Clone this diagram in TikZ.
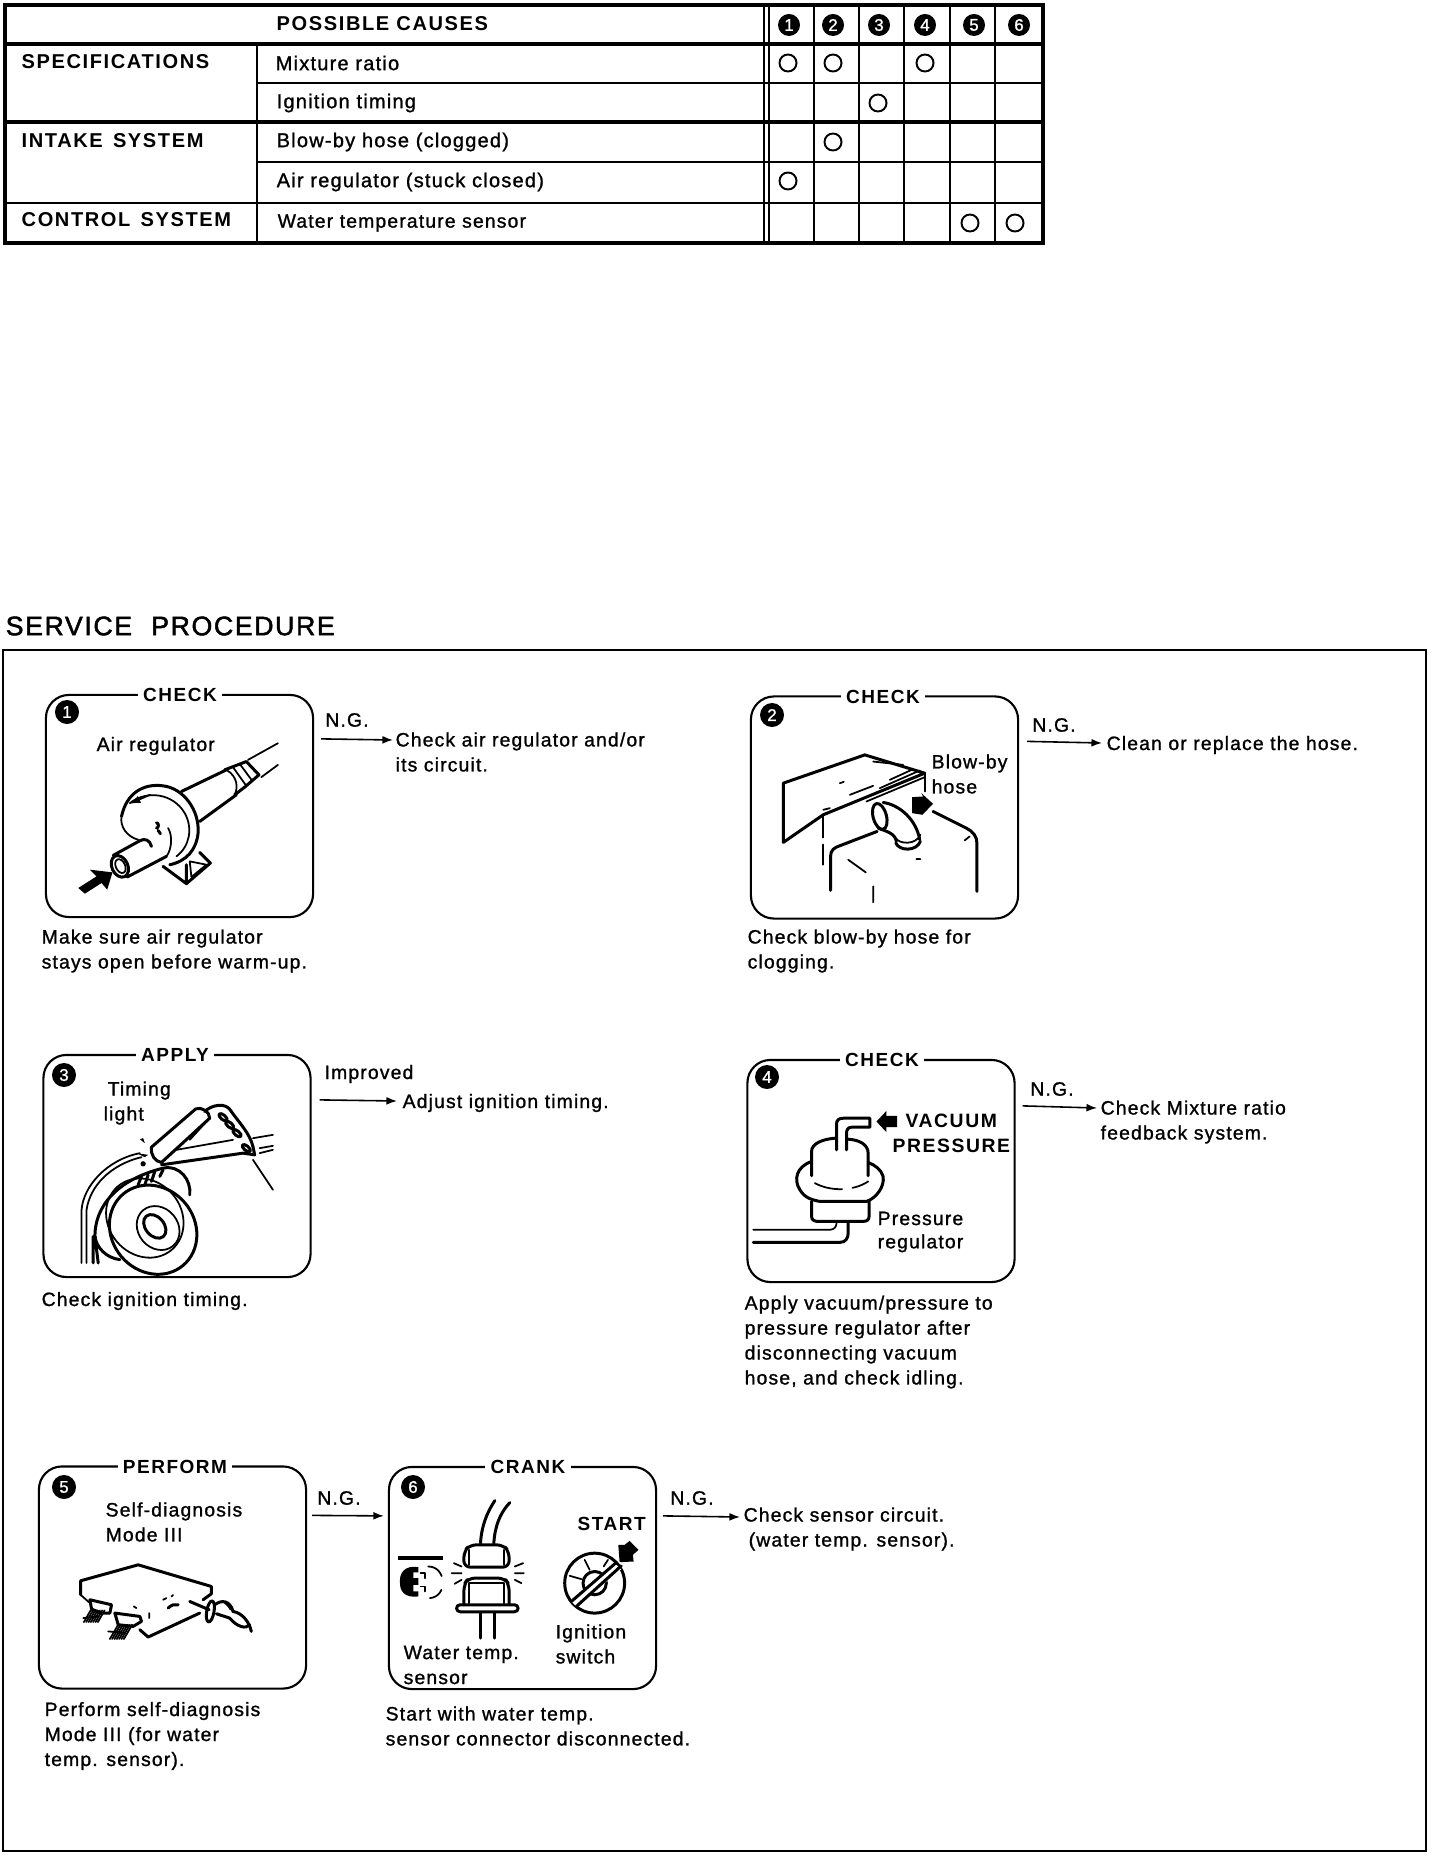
\documentclass[tikz,border=0pt]{standalone}
\usepackage{fontspec}
\setmainfont[LetterSpace=6,FakeBold=1.2]{Liberation Sans}
\newfontfamily\headfont[LetterSpace=6,FakeBold=1.8]{Liberation Sans}
\newfontfamily\capsfont[LetterSpace=8]{Liberation Sans Bold}
\usetikzlibrary{arrows.meta,positioning}

\begin{document}
\begin{tikzpicture}[>={Latex[length=6pt*0.5,width=4.5pt*0.5]},x=0.01cm,y=-0.01cm]
  \tikzstyle{txt}=[inner sep=0pt,anchor=west,align=left,font=\fontsize{5.5}{7.1}\selectfont]
  \tikzstyle{tabtxt}=[inner sep=0pt,anchor=west,font=\fontsize{5.7}{7}\selectfont]
  \tikzstyle{tabhead}=[inner sep=0pt,anchor=west,font=\capsfont\fontsize{5.7}{7}\selectfont]
  \tikzstyle{procbox}=[draw,rounded corners=0.23cm,line width=0.6pt,minimum width=2.67cm,minimum height=2.22cm,inner sep=0pt]
  \tikzstyle{boxtitle}=[inner sep=1.5pt,fill=white,font=\capsfont\fontsize{5.4}{7}\selectfont]
  \tikzstyle{badge}=[circle,fill=black,text=white,inner sep=0pt,minimum size=0.24cm,font=\fontsize{4.8}{5}\selectfont]
  \tikzstyle{headbadge}=[badge,minimum size=0.22cm]
  \tikzstyle{tick}=[circle,draw,line width=0.55pt,inner sep=0pt,minimum size=0.17cm]
  \tikzstyle{flow}=[line width=0.45pt,->]
  \tikzstyle{art}=[line width=0.5pt,line cap=round,line join=round]
  \tikzstyle{artb}=[line width=0.85pt,line cap=round,line join=round]
  \useasboundingbox (0,0) rectangle (1440,1858);
  % table
  \draw[line width=0.95pt] (5,5) rectangle (1043,243);
  \draw[line width=0.95pt] (5,44) -- (1043,44);
  \draw[line width=0.95pt] (5,122) -- (1043,122);
  \draw[line width=0.7pt] (5,203) -- (1043,203);
  \draw[line width=0.6pt] (257,83) -- (1043,83);
  \draw[line width=0.6pt] (257,162) -- (1043,162);
  \draw[line width=0.6pt] (257,44) -- (257,243);
  \foreach \xc in {764,769,814,859,904,950,995}
    \draw[line width=0.55pt] (\xc,5) -- (\xc,243);
  \node[tabhead] (causes) at (276,24) {POSSIBLE CAUSES};
  \node[tabhead] (spec) at (21,62) {SPECIFICATIONS};
  \node[tabhead] (intake) at (21,141) {INTAKE\hspace{0.03cm} SYSTEM};
  \node[tabhead] (control) at (21,220) {CONTROL\hspace{0.03cm} SYSTEM};
  \node[tabtxt] (mix) at (275,63) {Mixture ratio};
  \node[tabtxt] (ign) at (276,103) {Ignition timing};
  \node[tabtxt] (blow) at (276,142) {Blow-by hose (clogged)};
  \node[tabtxt] (air) at (276,182) {Air regulator (stuck closed)};
  \node[tabtxt,font=\fontsize{5.5}{7}\selectfont] (water) at (277,223) {Water temperature sensor};
  \foreach \i/\xc in {1/789,2/833,3/879,4/925,5/974,6/1019}
    \node[headbadge] (head\i) at (\xc,25) {\i};
  \foreach \i/\xc/\yc in {1/788/63,2/833/63,3/925/63,4/878/103,5/833/142,6/788/181,7/970/223,8/1015/223}
    \node[tick] (tick\i) at (\xc,\yc) {};
  % frame
  \node[inner sep=0pt,anchor=west,font=\headfont\fontsize{7.6}{9}\selectfont] (service) at (5,626) {SERVICE\hspace{0.1cm} PROCEDURE};
  \draw[line width=0.7pt] (3,650) rectangle (1426,1851);
  % boxes
  \foreach \n/\xc/\yc/\ttl/\tx/\bx/\by in {1/179.5/806/CHECK/180/67/712,2/884.5/807.5/CHECK/883/772/715,3/177/1166/APPLY/175/64/1075,4/881/1171/CHECK/882/767/1077,5/172.5/1577.5/PERFORM/175/64/1487,6/522.5/1578/CRANK/528/413/1487} {
    \node[procbox] (box\n) at (\xc,\yc) {};
    \node[boxtitle] (title\n) at (\tx,\yc-111) {\ttl};
    \node[badge] (num\n) at (\bx,\by) {\n};
  }
  % captions
  \node[txt] (cap1) at (41,951) {Make sure air regulator\\stays open before warm-up.};
  \node[txt] (cap2) at (747,951) {Check blow-by hose for\\clogging.};
  \node[txt] (cap3) at (41,1301) {Check ignition timing.};
  \node[txt] (cap4) at (744,1342) {Apply vacuum/pressure to\\pressure regulator after\\disconnecting vacuum\\hose, and check idling.};
  \node[txt] (cap5) at (44,1736) {Perform self-diagnosis\\Mode III (for water\\temp. sensor).};
  \node[txt] (cap6) at (385,1726) {Start with water temp.\\sensor connector disconnected.};
  % results
  \node[txt] (res1) at (395,752) {Check air regulator and/or\\its circuit.};
  \node[txt] (res2) at (1106,745) {Clean or replace the hose.};
  \node[txt] (res3) at (402,1103) {Adjust ignition timing.};
  \node[txt] (res4) at (1100,1122) {Check Mixture ratio\\feedback system.};
  \node[txt] (res6) at (743,1529) {Check sensor circuit.\\\hspace{0.05cm}(water temp. sensor).};
  \draw[flow] ([shift={(7,45)}]box1.north east) -- ([shift={(-2,-12)}]res1.west);
  \draw[flow] ([shift={(8,46)}]box2.north east) -- ([shift={(-4,-2)}]res2.west);
  \draw[flow] ([shift={(8,46)}]box3.north east) -- ([shift={(-5,-2)}]res3.west);
  \draw[flow] ([shift={(7,47)}]box4.north east) -- ([shift={(-3,-14)}]res4.west);
  \draw[flow] ([shift={(5,50)}]box5.north east) -- ([shift={(-4,50)}]box6.north west);
  \draw[flow] ([shift={(6,50)}]box6.north east) -- ([shift={(-3,-12)}]res6.west);
  \node[txt,anchor=center] (ng1) at (347,720) {N.G.};
  \node[txt,anchor=center] (ng2) at (1054,725) {N.G.};
  \node[txt,anchor=center] (imp) at (369,1074) {Improved};
  \node[txt,anchor=center] (ng4) at (1052,1089) {N.G.};
  \node[txt,anchor=center] (ng5) at (339,1498) {N.G.};
  \node[txt,anchor=center] (ng6) at (692,1498) {N.G.};
  % labels inside the boxes
  \node[txt] (lab1) at (96,746) {Air regulator};
  \node[txt] (lab2) at (931,774) {Blow-by\\hose};
  \node[txt] (lab3) at (103,1103) {\hspace{0.04cm}Timing\\light};
  \node[txt,font=\capsfont\fontsize{5.5}{7}\selectfont] (lab4) at (905,1121) {VACUUM};
  \node[txt,font=\capsfont\fontsize{5.5}{7}\selectfont] (lab4c) at (892,1146) {PRESSURE};
  \node[txt,font=\fontsize{5.5}{6.6}\selectfont] (lab4b) at (877,1232) {Pressure\\regulator};
  \node[txt] (lab5) at (105,1522) {Self-diagnosis\\Mode III};
  \node[txt,font=\capsfont\fontsize{5.4}{7}\selectfont] (lab6) at (577,1524) {START};
  \node[txt] (lab6b) at (555,1644) {Ignition\\switch};
  \node[txt] (lab6c) at (403,1665) {Water temp.\\sensor};
  % air regulator
  \begin{scope}[shift={(30,680)},x=0.00333cm,y=-0.00333cm]
    \draw[art] (655,240) -- (745,190) (695,292) -- (745,255);
    \draw[artb] (585,270) -- (650,245) -- (688,285) -- (645,322) -- (615,345);
    \draw[art] (610,262) -- (650,318) (630,252) -- (668,303);
    \draw[artb] (455,335) -- (590,270) (510,425) -- (620,345);
    \draw[art] (590,270) .. controls (625,290) and (625,325) .. (615,345);
    \draw[artb] (275,410) .. controls (290,340) and (340,310) .. (400,318) .. controls (460,325) and (510,390) .. (505,460) .. controls (500,510) and (470,545) .. (420,555);
    \draw[art] (300,370) .. controls (350,330) and (430,340) .. (465,400) .. controls (490,445) and (480,500) .. (440,530);
    \draw[-{Latex[length=3pt]},art] (360,345) -- (300,372);
    \draw[art] (275,410) .. controls (270,440) and (290,470) .. (325,480);
    \draw[artb] (250,527) -- (330,483) .. controls (345,475) and (360,480) .. (365,500);
    \draw[artb] (292,592) -- (410,530);
    \draw[artb,rotate around={25:(270,560)}] (270,560) ellipse (24 and 34);
    \draw[art,rotate around={25:(270,560)}] (272,560) ellipse (14 and 22);
    \draw[artb] (385,452) -- (392,462) (380,445) arc (90:-90:6 and 8);
    \draw[art] (415,445) .. controls (430,470) and (425,510) .. (410,530);
    \draw[artb] (400,560) -- (470,612) -- (542,550) -- (510,518) (470,555) -- (470,612);
    \draw[art] (480,545) -- (530,555) -- (485,592) -- cycle;
    \fill (145,625) -- (200,590) -- (180,570) -- (248,578) -- (232,630) -- (215,610) -- (165,642) -- cycle;
  \end{scope}
  % blow-by hose
  \begin{scope}[shift={(740,680)},x=0.00333cm,y=-0.00333cm]
    \draw[artb] (130,488) -- (130,310) -- (375,225) -- (555,280) -- (250,405) -- cycle;
    \draw[art] (555,280) -- (555,335);
    \draw[art,dash pattern=on 6pt off 2pt] (250,410) -- (250,555);
    \draw[art] (380,365) -- (555,292) (420,325) -- (540,272) (330,345) -- (400,318) (450,300) -- (520,268) (400,245) -- (490,255) (300,310) -- (312,306) (250,390) -- (270,385);
    \draw[artb,rotate around={15:(420,410)}] (420,410) ellipse (20 and 40);
    \draw[artb] (430,368) .. controls (480,375) and (530,420) .. (540,480);
    \draw[artb] (415,445) .. controls (440,455) and (465,460) .. (470,485);
    \draw[artb] (468,490) .. controls (480,515) and (530,515) .. (542,485);
    \draw[art] (468,475) .. controls (480,495) and (530,495) .. (542,465);
    \draw[artb] (272,632) -- (272,530) .. controls (272,510) and (285,503) .. (300,498) -- (412,455);
    \draw[artb] (580,395) -- (680,445) .. controls (700,455) and (712,470) .. (712,490) -- (712,635);
    \draw[art] (325,540) -- (378,578) (400,620) -- (400,668) (675,482) -- (690,470) (530,538) -- (542,538);
    \fill (517,352) -- (550,350) -- (545,340) -- (580,372) -- (548,405) -- (517,400) -- cycle;
  \end{scope}
  % timing light
  \begin{scope}[shift={(30,1040)},x=0.00333cm,y=-0.00333cm]
    \draw[artb] (395,368) .. controls (375,365) and (362,345) .. (365,322) -- (498,207) .. controls (515,200) and (540,215) .. (540,235) -- (395,368);
    \draw[artb] (525,215) .. controls (545,195) and (590,185) .. (605,215);
    \foreach \xc/\yc in {580/232,600/255,622/280,650/325}
      \draw[artb,rotate around={-40:(\xc,\yc)}] (\xc,\yc) ellipse (15 and 7);
    \draw[artb] (605,215) .. controls (630,250) and (660,280) .. (670,320) -- (675,345) -- (640,340) -- (395,375);
    \draw[art] (440,330) -- (610,300) (480,300) -- (535,240);
    \draw[art] (670,295) -- (730,285) (690,325) -- (730,318) (690,340) -- (730,330) (670,360) -- (730,450);
    \fill (320,340) -- (355,345) -- (345,352) -- cycle;
    \fill (330,298) -- (340,295) -- (345,310) -- cycle;
    \fill (340,372) circle (8);
    \draw[art] (155,670) -- (155,510) .. controls (160,440) and (230,360) .. (330,340);
    \draw[art] (170,670) -- (170,510) .. controls (180,440) and (240,375) .. (335,352);
    \draw[artb] (190,670) -- (190,590) (205,670) -- (195,590);
    \draw[artb] (195,590) .. controls (195,500) and (260,420) .. (400,385) .. controls (450,375) and (485,420) .. (480,465);
    \draw[artb] (195,590) .. controls (200,625) and (230,655) .. (270,660);
    \draw[artb,rotate around={40:(370,570)}] (370,570) ellipse (125 and 140);
    \draw[art,rotate around={40:(345,535)}] (345,535) ellipse (110 and 125);
    \draw[artb,rotate around={40:(375,560)}] (375,560) ellipse (28 and 40);
    \draw[art,rotate around={40:(385,565)}] (385,565) ellipse (60 and 70);
    \draw[artb] (325,435) -- (335,410) (345,435) -- (355,405) (365,425) -- (375,395) (390,410) -- (400,390);
  \end{scope}
  % pressure regulator
  \begin{scope}[shift={(740,1050)},x=0.00333cm,y=-0.00333cm]
    \draw[artb] (290,300) -- (290,222) .. controls (290,210) and (298,205) .. (310,205) -- (390,205) -- (390,232) -- (335,232) .. controls (325,232) and (320,240) .. (320,250) -- (320,300);
    \draw[artb] (215,378) -- (215,305) .. controls (215,280) and (250,268) .. (285,265);
    \draw[artb] (325,268) .. controls (360,270) and (385,285) .. (385,310) -- (385,378);
    \draw[art,dash pattern=on 8pt off 3pt] (225,400) .. controls (270,425) and (340,425) .. (385,395);
    \draw[artb] (215,335) .. controls (170,350) and (160,390) .. (180,420) .. controls (195,445) and (215,450) .. (240,455) -- (380,455) .. controls (410,445) and (435,410) .. (430,380) .. controls (425,360) and (405,345) .. (385,338);
    \draw[artb] (215,455) -- (215,500) .. controls (215,512) and (225,515) .. (235,515) -- (370,515) .. controls (382,515) and (388,510) .. (388,498) -- (388,455);
    \draw[art] (40,540) -- (270,540) .. controls (282,540) and (290,532) .. (290,520);
    \draw[artb] (40,578) -- (300,578) .. controls (318,578) and (325,565) .. (325,550) -- (325,518);
    \fill (410,215) -- (440,183) -- (440,198) -- (472,198) -- (472,232) -- (440,232) -- (440,247) -- cycle;
  \end{scope}
  % control unit
  \begin{scope}[shift={(30,1450)},x=0.00333cm,y=-0.00333cm]
    \draw[artb] (152,435) -- (152,393) -- (325,345) -- (545,410) -- (545,432) -- (520,450);
    \draw[art] (152,435) -- (178,458);
    \draw[artb] (330,540) -- (355,562) -- (510,490);
    \draw[artb] (180,450) -- (245,465) -- (240,490) -- (215,490) -- (185,478) -- cycle;
    \draw[artb] (255,490) -- (330,500) -- (335,515) -- (310,530) -- (265,525) -- cycle;
    \foreach \xc in {0,7,...,42} {
      \draw[art] (182+\xc,482) -- (162+\xc,517);
      \draw[art] (265+\xc,525) -- (240+\xc,568);
    }
    \draw[art] (160,505) -- (205,500) (235,545) -- (285,550);
    \draw[art] (400,450) -- (410,445) (425,440) -- (430,436) (312,470) -- (320,475) (358,490) -- (358,505);
    \draw[artb] (415,475) .. controls (425,465) and (435,462) .. (445,465);
    \draw[artb] (480,455) -- (538,480);
    \draw[artb,rotate around={-10:(542,485)}] (542,485) ellipse (11 and 32);
    \draw[artb] (555,465) .. controls (575,450) and (600,450) .. (610,485) .. controls (640,490) and (660,520) .. (665,545);
    \draw[artb] (560,492) -- (600,505) .. controls (620,530) and (650,540) .. (660,525);
    \fill (575,455) .. controls (590,450) and (610,465) .. (615,485) -- (600,480) .. controls (595,470) and (585,462) .. (575,455);
  \end{scope}
  % sensor and ignition switch
  \begin{scope}[shift={(380,1450)},x=0.00333cm,y=-0.00333cm]
    \draw[artb] (302,280) .. controls (305,230) and (320,190) .. (345,152);
    \draw[artb] (342,280) .. controls (345,230) and (360,190) .. (390,158);
    \draw[artb,rounded corners=6pt*0.3] (252,352) -- (252,305) -- (270,285) -- (370,285) -- (388,305) -- (388,352) -- cycle;
    \draw[art] (268,345) -- (268,300) (372,345) -- (372,300);
    \draw[artb,rounded corners=6pt*0.3] (252,465) -- (252,405) -- (265,385) -- (375,385) -- (388,405) -- (388,465);
    \draw[art] (268,460) -- (268,400) -- (372,400) -- (372,460);
    \draw[artb,rounded corners=1pt] (230,465) rectangle (415,486);
    \draw[artb] (303,488) -- (303,565) (343,488) -- (343,565);
    \draw[art] (222,340) -- (245,350) (215,370) -- (245,370) (224,402) -- (245,390) (430,340) -- (405,350) (432,370) -- (405,370) (425,400) -- (405,390);
    \fill (55,318) rectangle (190,330);
    \fill (115,352) .. controls (75,345) and (58,370) .. (60,395) .. controls (58,425) and (75,445) .. (115,440) -- (115,425) -- (100,425) -- (100,405) -- (115,405) -- (115,385) -- (100,385) -- (100,368) -- (115,368) -- cycle;
    \draw[art,dash pattern=on 5pt off 4pt] (145,350) .. controls (200,350) and (205,440) .. (150,445);
    \draw[art] (122,370) -- (135,370) -- (135,385) (122,410) -- (135,410) -- (135,425);
    \draw[artb] (645,400) circle (90);
    \draw[artb] (645,400) circle (35);
    \fill[white] (575,455) -- (710,345) -- (725,358) -- (590,470) -- cycle;
    \draw[artb] (575,455) -- (710,338) (590,470) -- (725,348);
    \draw[art] (615,330) -- (630,360) (570,378) -- (605,388) (672,350) -- (685,330);
    \fill (720,337) -- (716,285) -- (735,285) -- (750,273) -- (777,300) -- (760,315) -- (762,335) -- cycle;
  \end{scope}
\end{tikzpicture}
\end{document}
